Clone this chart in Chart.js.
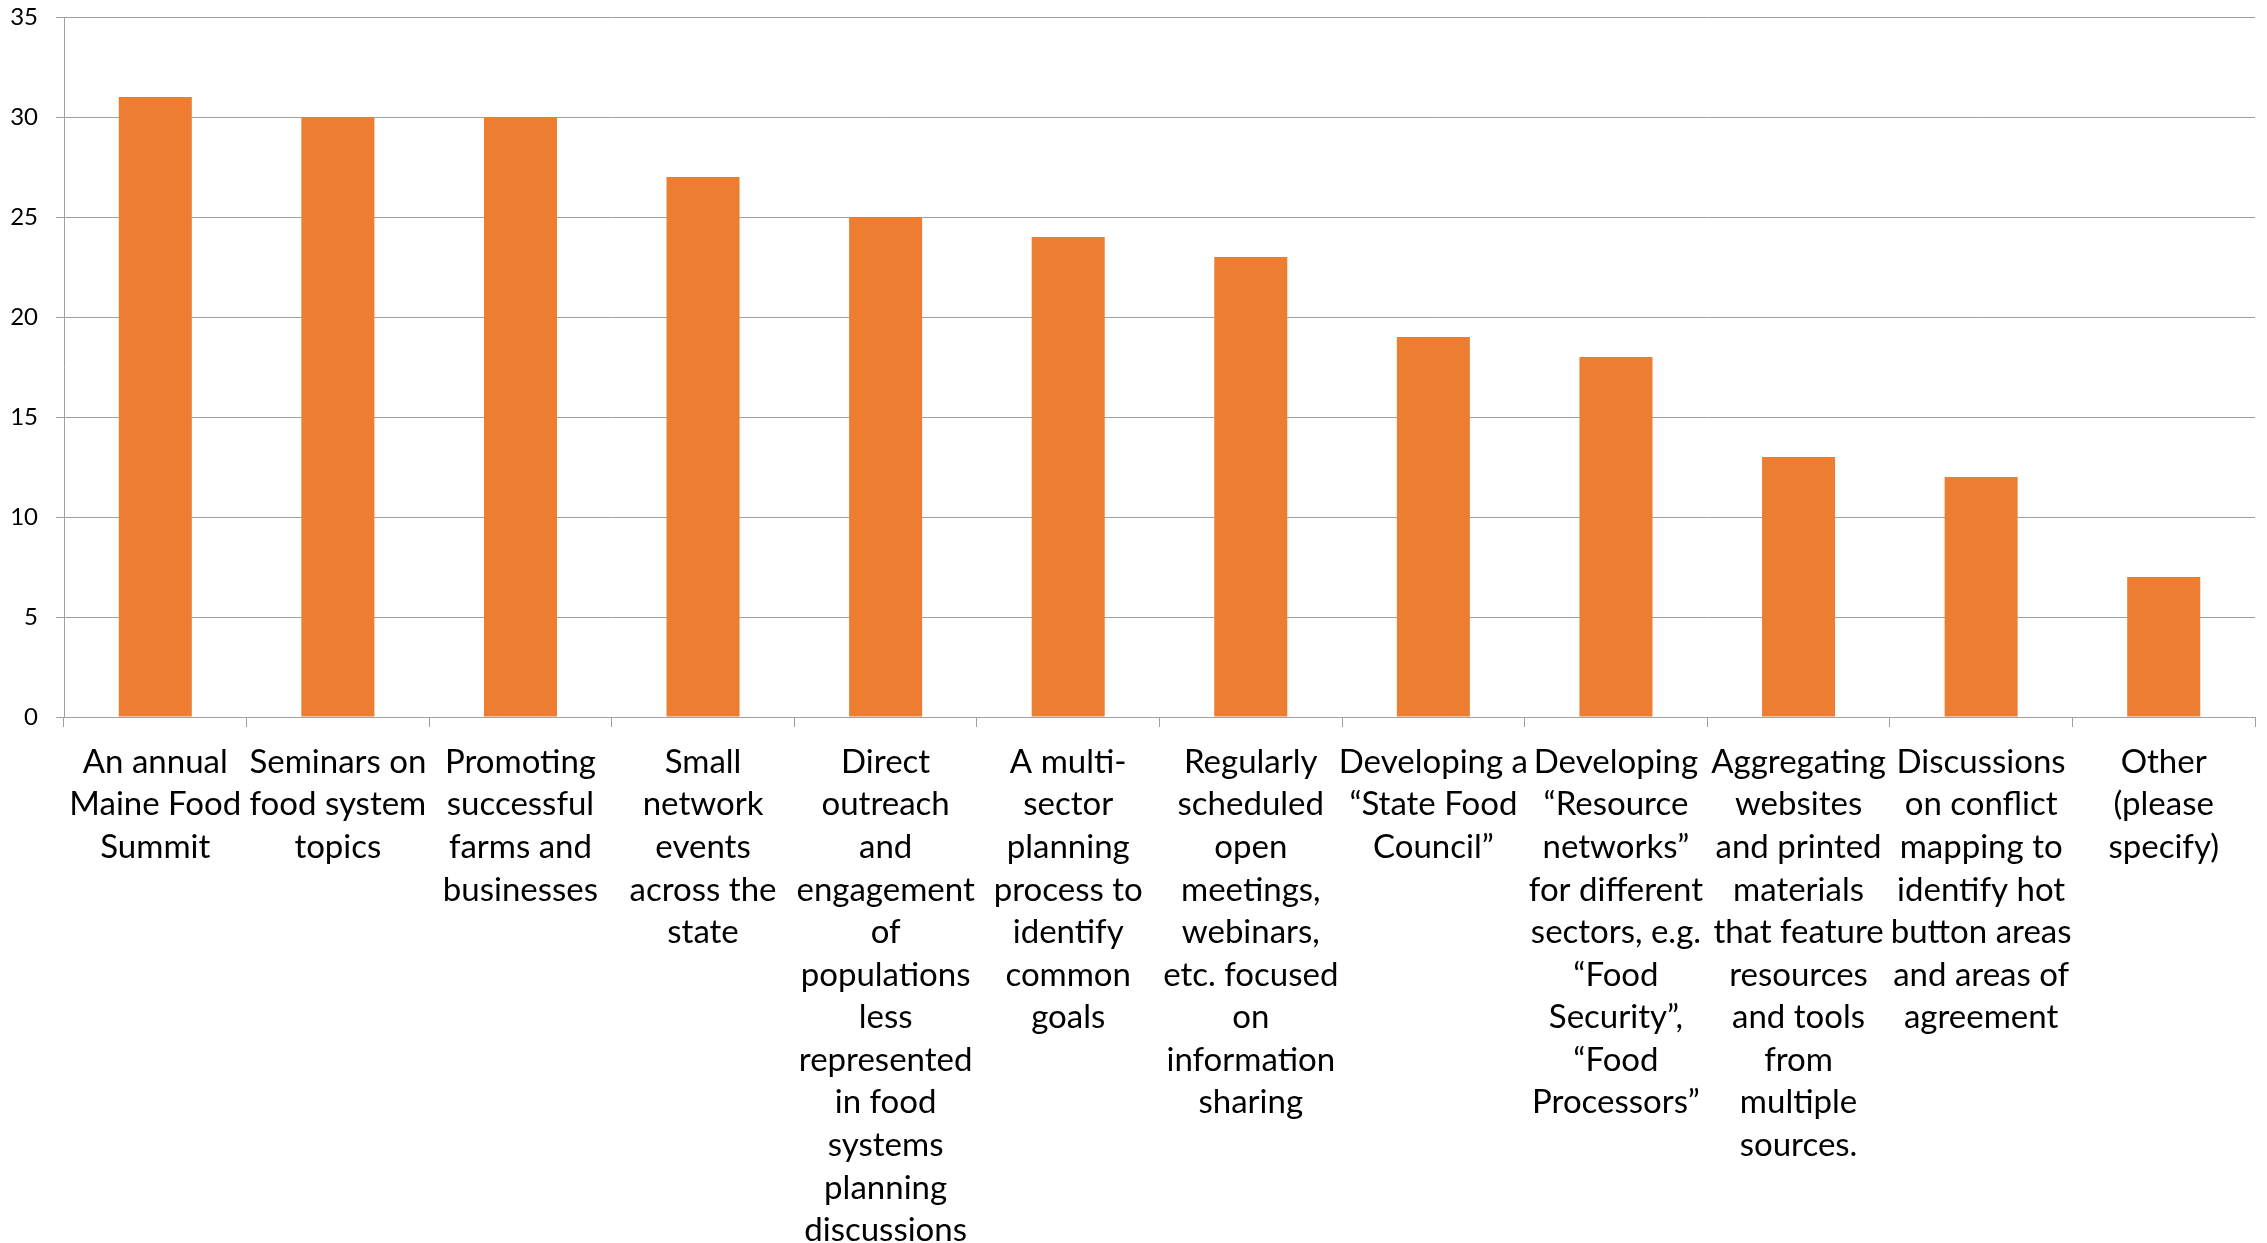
<!DOCTYPE html>
<html>
<head>
<meta charset="utf-8">
<script src="https://cdn.jsdelivr.net/npm/chart.js@4/dist/chart.umd.min.js"></script>
<style>
  html, body { margin: 0; padding: 0; background: #ffffff; overflow: hidden; }
  canvas { display: block; }
</style>
</head>
<body>
<canvas id="chart" width="2267" height="1243"></canvas>
<script>
// Survey options (each label is split into its wrapped lines)
const categories = [
  ["An annual", "Maine Food", "Summit"],
  ["Seminars on", "food system", "topics"],
  ["Promoting", "successful", "farms and", "businesses"],
  ["Small", "network", "events", "across the", "state"],
  ["Direct", "outreach", "and", "engagement", "of", "populations", "less", "represented", "in food", "systems", "planning", "discussions"],
  ["A multi-", "sector", "planning", "process to", "identify", "common", "goals"],
  ["Regularly", "scheduled", "open", "meetings,", "webinars,", "etc. focused", "on", "information", "sharing"],
  ["Developing a", "\u201CState Food", "Council\u201D"],
  ["Developing", "\u201CResource", "networks\u201D", "for different", "sectors, e.g.", "\u201CFood", "Security\u201D,", "\u201CFood", "Processors\u201D"],
  ["Aggregating", "websites", "and printed", "materials", "that feature", "resources", "and tools", "from", "multiple", "sources."],
  ["Discussions", "on conflict", "mapping to", "identify hot", "button areas", "and areas of", "agreement"],
  ["Other", "(please", "specify)"]
];

// Number of responses per option
const responses = [31, 30, 30, 27, 25, 24, 23, 19, 18, 13, 12, 7];

// Value-axis tick labels
const yTicks = [0, 5, 10, 15, 20, 25, 30, 35];

const FONT = "Lato, 'Liberation Sans', sans-serif";
const GRID = "#a0a0a0";

new Chart(document.getElementById("chart"), {
  type: "bar",
  data: {
    labels: categories,
    datasets: [{
      data: responses,
      backgroundColor: "#ED7D31",
      borderWidth: 0,
      categoryPercentage: 0.8,
      barPercentage: 0.5
    }]
  },
  options: {
    responsive: false,
    animation: false,
    devicePixelRatio: 1,
    layout: { padding: { left: 0, right: 12, top: 17, bottom: 0 } },
    plugins: {
      legend: { display: false },
      tooltip: { enabled: false }
    },
    scales: {
      x: {
        offset: true,
        grid: {
          offset: true,
          drawOnChartArea: false,
          drawTicks: true,
          tickLength: 10,
          color: GRID,
          lineWidth: 1
        },
        border: { display: true, color: GRID, width: 1 },
        ticks: {
          autoSkip: false,
          maxRotation: 0,
          minRotation: 0,
          padding: 14,
          color: "#000000",
          font: { family: FONT, size: 33, lineHeight: 1.29 }
        },
        afterFit: (scale) => { scale.height = 526; }
      },
      y: {
        min: 0,
        max: 35,
        afterBuildTicks: (scale) => { scale.ticks = yTicks.map(v => ({ value: v })); },
        grid: {
          color: GRID,
          lineWidth: 1,
          drawTicks: true,
          tickLength: 8
        },
        border: { display: true, color: GRID, width: 1 },
        ticks: {
          padding: 18,
          color: "#000000",
          font: { family: FONT, size: 24 }
        },
        afterFit: (scale) => {
          scale.width = 64;
          scale.paddingTop = 0;
          scale.paddingBottom = 0;
        }
      }
    }
  }
});
</script>
</body>
</html>
